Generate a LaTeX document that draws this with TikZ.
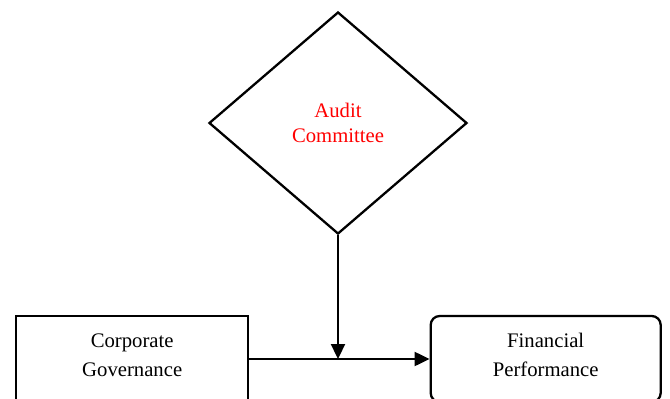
\documentclass[tikz,border=0pt]{standalone}
\usepackage{fontspec}
\setmainfont{Liberation Serif}
\usetikzlibrary{shapes.geometric,arrows.meta}
\begin{document}
\begin{tikzpicture}[x=1pt,y=-1pt,
  every node/.style={font=\fontsize{20.7}{29}\selectfont, align=center, inner sep=0pt},
  box/.style={draw, line width=2.3pt, minimum width=232pt, minimum height=86pt, text depth=8pt},
  rbox/.style={box, rounded corners=9pt, minimum width=230pt},
  dia/.style={draw, line width=2.3pt, diamond, minimum width=258pt, minimum height=222pt, text=red,
    font=\fontsize{20.7}{25}\selectfont},
  arr/.style={line width=2.3pt, -{Triangle[length=15pt,width=14pt]}}]
\useasboundingbox (0,0) rectangle (670,399);
\node[dia] (ac) at (338,123) {Audit\\Committee};
\node[box] (cg) at (132.2,359) {Corporate\\Governance};
\node[rbox] (fp) at (545.7,359) {Financial\\Performance};
\coordinate (j) at (ac.south |- cg.east);
\draw[arr] (cg.east) -- (fp.west);
\draw[arr] (ac.south) -- (j);
\end{tikzpicture}
\end{document}
